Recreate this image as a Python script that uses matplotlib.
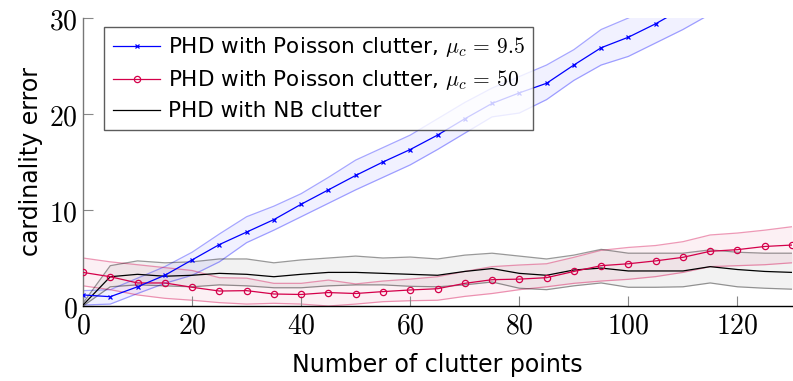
import matplotlib
matplotlib.use("Agg")
import matplotlib.pyplot as plt
import numpy as np

plt.rcParams["font.family"] = ["DejaVu Sans"]
plt.rcParams["mathtext.fontset"] = "cm"

# number of clutter points
x = np.arange(0, 131, 5)

# PHD with Poisson clutter, mu_c = 9.5
blue_mean = [1.15, 0.97, 2.0, 3.2, 4.8, 6.4, 7.7, 9.0, 10.6, 12.1, 13.6, 15.0, 16.3, 17.8,
             19.5, 21.1, 22.2, 23.2, 25.1, 26.9, 28.0, 29.4, 31.0, 32.4, 33.8, 35.3, 36.6]
blue_up = [1.6, 1.7, 2.9, 4.1, 5.6, 7.5, 9.3, 10.4, 11.7, 13.4, 15.2, 16.5, 17.8, 19.5,
           21.2, 22.7, 23.9, 25.1, 26.7, 28.8, 30.0, 31.4, 32.8, 34.0, 35.5, 37.0, 38.4]
blue_lo = [0.1, 0.2, 1.3, 2.36, 3.2, 4.6, 6.6, 7.9, 9.3, 10.7, 12.1, 13.4, 14.7, 16.3,
           18.0, 19.7, 20.1, 21.5, 23.5, 25.1, 26.0, 27.4, 28.8, 30.4, 31.8, 33.4, 34.8]

# PHD with Poisson clutter, mu_c = 50
red_mean = [3.5, 3.05, 2.4, 2.4, 1.95, 1.56, 1.6, 1.25, 1.2, 1.4, 1.3, 1.5, 1.67, 1.8,
            2.36, 2.74, 2.8, 2.95, 3.6, 4.2, 4.4, 4.7, 5.07, 5.7, 5.87, 6.2, 6.35]
red_up = [5.0, 4.6, 4.3, 4.0, 3.7, 2.95, 2.9, 2.36, 2.36, 2.7, 2.3, 2.6, 2.8, 3.05,
          3.6, 4.1, 4.27, 4.4, 5.07, 5.8, 6.1, 6.3, 6.7, 7.4, 7.6, 7.9, 8.26]
red_lo = [2.1, 1.7, 1.15, 0.8, 0.6, 0.35, 0.2, 0.28, 0.2, 0.0, 0.2, 0.45, 0.55, 0.6,
          1.0, 1.3, 1.7, 2.0, 2.36, 2.6, 2.78, 3.06, 3.5, 4.1, 4.2, 4.3, 4.5]

# PHD with NB clutter
nb_mean = [0.1, 3.05, 3.3, 3.1, 3.2, 3.4, 3.3, 3.05, 3.3, 3.5, 3.5, 3.4, 3.3, 3.2,
           3.6, 3.9, 3.4, 3.2, 3.75, 3.95, 3.65, 3.65, 3.65, 4.1, 3.8, 3.6, 3.5]
nb_up = [0.3, 4.2, 4.7, 4.5, 4.6, 4.9, 4.9, 4.5, 4.8, 5.0, 5.2, 5.0, 5.1, 4.9,
         5.3, 5.5, 5.2, 4.9, 5.3, 5.9, 5.5, 5.5, 5.5, 5.85, 5.6, 5.5, 5.5]
nb_lo = [0.0, 2.0, 2.2, 2.1, 2.0, 2.2, 2.1, 1.9, 1.9, 2.1, 2.2, 2.2, 2.05, 2.0,
         2.2, 2.5, 1.85, 1.7, 2.1, 2.4, 1.95, 1.95, 2.0, 2.4, 2.0, 1.85, 1.75]

xticks = [0, 20, 40, 60, 80, 100, 120]
yticks = [0, 10, 20, 30]

blue = "#0000FF"
red = "#D4004A"

fig = plt.figure(figsize=(7.93, 3.81), dpi=100)
ax = fig.add_axes([83/793, 75/381, 709/793, 288/381])

# bands
ax.fill_between(x, blue_lo, blue_up, color=blue, alpha=0.055, lw=0, zorder=1)
ax.plot(x, blue_up, color=blue, alpha=0.35, lw=0.9, zorder=1.5)
ax.plot(x, blue_lo, color=blue, alpha=0.35, lw=0.9, zorder=1.5)

ax.fill_between(x, red_lo, red_up, color=red, alpha=0.06, lw=0, zorder=1)
ax.plot(x, red_up, color=red, alpha=0.4, lw=0.9, zorder=1.5)
ax.plot(x, red_lo, color=red, alpha=0.4, lw=0.9, zorder=1.5)

ax.fill_between(x, nb_lo, nb_up, color="black", alpha=0.05, lw=0, zorder=1)
ax.plot(x, nb_up, color="black", alpha=0.4, lw=0.9, zorder=1.5)
ax.plot(x, nb_lo, color="black", alpha=0.4, lw=0.9, zorder=1.5)

# means
ax.plot(x, nb_mean, color="black", lw=0.9, zorder=3, label="PHD with NB clutter")
ax.plot(x, red_mean, color=red, lw=0.9, marker="o", ms=4.5, mfc="none", mew=0.9,
        zorder=4, label=r"PHD with Poisson clutter, $\mu_c\,=\,50$")
ax.plot(x, blue_mean, color=blue, lw=0.9, marker="x", ms=3.5, mew=0.9,
        zorder=5, label=r"PHD with Poisson clutter, $\mu_c\,=\,9.5$")

ax.set_xlim(0, 130)
ax.set_ylim(0, 30)
ax.set_xticks(xticks, [f"${v}$" for v in xticks])
ax.set_yticks(yticks, [f"${v}$" for v in yticks])
ax.tick_params(direction="in", length=7, width=0.8, color="#888888",
               labelsize=20, pad=4)

ax.spines["top"].set_visible(False)
ax.spines["right"].set_visible(False)
ax.spines["left"].set_color("#777777")
ax.spines["left"].set_linewidth(1.0)
ax.spines["bottom"].set_color("black")
ax.spines["bottom"].set_linewidth(1.0)

ax.set_xlabel("Number of clutter points", fontsize=17, labelpad=10)
ax.set_ylabel("cardinality error", fontsize=17, labelpad=4)

handles, labels = ax.get_legend_handles_labels()
order = [2, 1, 0]
leg = ax.legend([handles[i] for i in order], [labels[i] for i in order],
                loc="upper left", bbox_to_anchor=(0.03, 0.97), borderaxespad=0,
                fontsize=15.5, fancybox=False, framealpha=0.8, edgecolor="#333333",
                handlelength=2.2, handletextpad=0.35, labelspacing=0.42,
                borderpad=0.4)
leg.get_frame().set_linewidth(1.0)
leg.set_zorder(10)

plt.savefig("out.png", dpi=100)
